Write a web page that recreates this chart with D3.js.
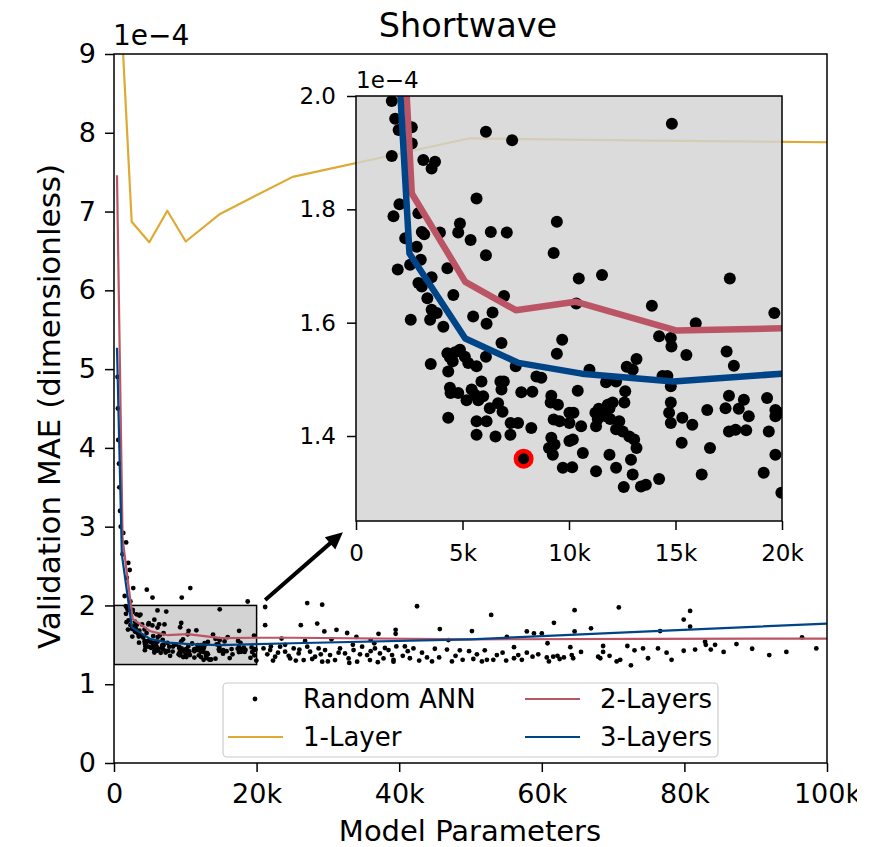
<!DOCTYPE html>
<html><head><meta charset="utf-8">
<script src="https://cdn.jsdelivr.net/npm/d3@7"></script>
<style>
body{margin:0;background:#fff}
svg{display:block}
text{font-family:"DejaVu Sans",sans-serif;fill:#000}
</style>
</head><body>
<svg id="c" width="892" height="847"></svg>
<script>
// ---------------- data (x in thousands of parameters, y in units of 1e-4) ----------------
const title = "Shortwave";
const xLabel = "Model Parameters";
const yLabel = "Validation MAE (dimensionless)";
const offsetLabel = "1e\u22124";

const xMainTicks = [0, 20, 40, 60, 80, 100];
const yMainTicks = [0, 1, 2, 3, 4, 5, 6, 7, 8, 9];
const xInsetTicks = [0, 5, 10, 15, 20];
const yInsetTicks = [1.4, 1.6, 1.8, 2.0];
const zoomX = [0, 20];
const zoomY = [1.25, 2.0];

const oneLayerX = [1.0, 2.48, 4.95, 7.48, 10.06, 14.87, 25.06, 49.9, 75, 100];
const oneLayerY = [9.5, 6.87, 6.61, 7.01, 6.62, 6.97, 7.44, 7.93, 7.90, 7.88];

const twoLayerX = [0.42, 1.2, 2.62, 5.13, 7.5, 10.3, 15.06, 20, 25, 50, 75, 100];
const twoLayerY = [7.46, 2.85, 1.828, 1.672, 1.622, 1.637, 1.586, 1.590, 1.59, 1.57, 1.575, 1.58];

const threeLayerX = [0.42, 1.1, 2.51, 5.13, 7.63, 10.6, 14.9, 20, 25, 50, 75, 100];
const threeLayerY = [5.27, 2.65, 1.722, 1.572, 1.529, 1.51, 1.496, 1.51, 1.52, 1.57, 1.67, 1.77];

const bestPoint = [7.87, 1.360];

// Random ANN results [params (k), MAE (1e-4)]
const annSmall = [
 [1.68,1.991],[1.84,1.960],[2.00,1.940],[2.62,1.945],[2.62,1.916],[1.68,1.894],[3.16,1.887],[3.71,1.884],[3.55,1.872],[6.10,1.937],[7.33,1.922],[14.83,1.951],
 [5.66,1.819],[2.04,1.809],[1.76,1.788],[2.93,1.793],[3.09,1.760],[3.20,1.756],[3.94,1.759],[4.88,1.775],[4.80,1.759],[5.38,1.746],[6.33,1.760],[7.08,1.759],[9.43,1.778],[9.28,1.723],[6.10,1.719],
 [2.31,1.749],[2.85,1.734],[3.04,1.711],[2.54,1.702],[1.96,1.694],[4.29,1.696],[3.55,1.680],[2.93,1.670],[3.09,1.664],[3.35,1.643],[4.57,1.649],[6.95,1.647],[3.55,1.623],[3.79,1.617],[3.48,1.605],[2.57,1.605],[4.10,1.593],[5.50,1.611],[6.41,1.618],[6.13,1.598],[10.46,1.678],[11.55,1.684],[10.34,1.634],[13.89,1.630],[17.55,1.678],[19.64,1.617],[15.95,1.599],
 [6.83,1.564],[9.68,1.570],[9.43,1.545],[14.23,1.576],[14.78,1.573],[14.81,1.558],[15.51,1.543],[17.40,1.549],[17.74,1.524],[13.17,1.536],[12.71,1.522],[12.99,1.517],
 [3.51,1.527],[4.29,1.546],[4.41,1.539],[4.65,1.548],[4.88,1.552],[5.11,1.540],[4.54,1.532],[5.27,1.529],[5.66,1.523],[4.33,1.514],[6.10,1.540],[7.50,1.523],[8.47,1.505],[8.70,1.503],[10.96,1.517],[11.74,1.495],[12.21,1.496],[14.39,1.506],[14.62,1.506],[14.78,1.488],
 [4.41,1.485],[4.44,1.476],[4.80,1.476],[5.43,1.482],[5.58,1.473],[5.89,1.496],[5.19,1.463],[5.74,1.463],[5.97,1.470],[6.78,1.496],[6.94,1.496],[6.83,1.482],[7.76,1.477],[8.28,1.478],[9.17,1.471],[9.14,1.459],[9.48,1.455],[10.41,1.480],[12.64,1.479],[12.60,1.459],[11.82,1.455],[11.90,1.449],[12.05,1.459],[11.40,1.448],[11.24,1.441],[11.35,1.430],[14.78,1.459],[16.49,1.446],[17.51,1.471],[18.21,1.464],[17.97,1.448],[17.35,1.449],[19.30,1.467],[19.69,1.446],[19.85,1.441],[19.69,1.435],
 [6.28,1.449],[6.67,1.458],[6.88,1.443],[4.33,1.432],[5.66,1.426],[6.13,1.426],[7.26,1.423],[7.61,1.423],[8.23,1.414],[7.25,1.402],[5.66,1.402],[6.55,1.399],[9.28,1.429],[9.56,1.426],[10.02,1.441],[10.21,1.441],[10.02,1.423],[10.57,1.417],[11.27,1.417],[11.74,1.435],[11.93,1.430],[12.36,1.426],[12.21,1.412],[12.52,1.408],[12.83,1.399],[13.06,1.394],[13.17,1.379],[14.70,1.441],[14.78,1.423],[15.32,1.432],[15.79,1.420],[17.51,1.408],[17.82,1.411],[18.32,1.410],[18.44,1.435],[19.38,1.408],
 [9.17,1.397],[9.32,1.385],[9.06,1.379],[9.24,1.367],[10.02,1.391],[10.18,1.394],[10.65,1.370],[11.90,1.367],[12.91,1.358],[12.21,1.344],[11.27,1.338],[9.71,1.344],[10.15,1.345],[12.99,1.332],[12.57,1.310],[13.38,1.311],[13.61,1.314],[14.23,1.324],[15.29,1.388],[16.62,1.379],[16.23,1.332],[19.14,1.335],[19.69,1.367],[19.97,1.300],
 [7.87,1.360]
];
const annTall = [
 [0.5,4.9],[0.55,4.5],[0.6,4.1],[0.7,3.8],[0.75,3.5],[0.85,3.2],[0.95,3.0],[1.3,2.92],[1.7,2.8],[1.2,2.65],[2.0,2.54],[2.2,2.45],[1.8,2.35],[2.7,2.22],[1.5,2.12],[2.3,2.05],
 [4.6,2.20],[5.4,2.10],[9.5,2.10],[10.7,2.22],[18.75,2.05]
];
const annWide = [
 [21.2,1.98],[27.1,2.03],[29.2,2.01],[42.5,1.99],[52.9,1.88],[61.7,1.78],
 [21.2,1.75],[26.2,1.75],[28.5,1.77],[29.5,1.67],[31.2,1.69],[32.7,1.65],[37.1,1.64],[39.5,1.69],[39.5,1.64],[45.7,1.70],[50.2,1.675],[55.1,1.60],[57.9,1.67],[58.9,1.645],[60.0,1.645],
 [20.97,1.455],[21.9,1.434],[22.6,1.349],[23.3,1.476],[24.0,1.413],[24.7,1.328],[25.2,1.455],[25.9,1.391],[26.6,1.307],[27.1,1.476],[27.5,1.413],[28.2,1.349],[28.7,1.455],[29.2,1.286],[29.6,1.434],[30.3,1.370],[31.0,1.307],[31.7,1.455],[32.4,1.391],[32.9,1.328],[33.6,1.434],[34.1,1.286],[34.8,1.476],[35.5,1.370],[35.9,1.307],[36.6,1.455],[37.3,1.391],[37.8,1.328],[38.5,1.434],[39.2,1.286],
 [21.5,1.38],[22.3,1.30],[23.0,1.40],[24.5,1.36],[25.5,1.30],[26.0,1.44],[27.8,1.32],[29.0,1.38],[30.0,1.29],[31.5,1.40],[33.0,1.27],[34.5,1.38],[36.0,1.42],[37.0,1.28],[38.0,1.46],[39.0,1.37],[22.0,1.48],[24.0,1.50],[33.5,1.50],[36.5,1.52],
 [23.5,1.58],[26.8,1.55],[30.5,1.57],[34.0,1.60],[36.0,1.56],
 [64.6,1.94],[70.8,1.975],[80.8,1.93],[79.9,1.82],[80.8,1.73],[66.9,1.71],[64.6,1.67],[76.6,1.675],[68.6,1.485],[72.0,1.485],[74.2,1.455],[76.3,1.455],[82.9,1.54],[83.0,1.50],[83.7,1.44],[84.3,1.50],[87.3,1.51],[96.5,1.595],[98.5,1.455],[94.3,1.41],[91.9,1.37],[79.9,1.425],[81.5,1.44],[78.2,1.31],[74.9,1.33],[72.5,1.24],[70.5,1.29],[71.0,1.31],[68.6,1.41],[67.9,1.35],[68.2,1.33],[64.2,1.37],[64.4,1.33],[61.6,1.35],[62.2,1.36],[62.5,1.32],[60.7,1.34],[58.7,1.35],[57.9,1.40],[56.7,1.37],[56.1,1.33],[55.0,1.30],[53.7,1.37],[52.3,1.31],[51.6,1.29],[50.4,1.32],[49.8,1.42],[48.5,1.43],[47.4,1.29],[46.7,1.44],[45.6,1.34],[43.9,1.34],[41.5,1.33],[42.0,1.455],[40.8,1.48],[39.6,1.48],[39.2,1.31],[60.8,1.52],[56.1,1.47],[64.0,1.47],[46.9,1.56],
 [40.5,1.36],[41.2,1.42],[42.8,1.30],[43.2,1.40],[44.6,1.29],[45.0,1.45],[47.9,1.36],[48.9,1.31],[50.9,1.38],[52.0,1.43],[53.2,1.31],[54.5,1.40],[57.2,1.31],[59.5,1.38],[61.0,1.29],[63.1,1.34],[65.5,1.41],[69.5,1.36],[73.0,1.43],[77.5,1.40],[85.5,1.41],[89.5,1.45]
];

const seriesNames = ["Random ANN", "1-Layer", "2-Layers", "3-Layers"];
const colors = {one: "#DDAA33", two: "#BB5566", three: "#004488"};

// ---------------- layout ----------------
const svg = d3.select("#c");
const M = {l: 114, r: 827, t: 54, b: 763};
const I = {l: 356, r: 782, t: 96, b: 521};
const x = d3.scaleLinear().domain([0, 100]).range([M.l, M.r]);
const y = d3.scaleLinear().domain([0, 9]).range([M.b, M.t]);
const xi = d3.scaleLinear().domain(zoomX).range([I.l, I.r]);
const yi = d3.scaleLinear().domain(zoomY).range([I.b, I.t]);
const kfmt = d => d === 0 ? "0" : d + "k";

const defs = svg.append("defs");
defs.append("clipPath").attr("id", "cm").append("rect")
  .attr("x", M.l).attr("y", M.t).attr("width", M.r - M.l).attr("height", M.b - M.t);
defs.append("clipPath").attr("id", "ci").append("rect")
  .attr("x", I.l).attr("y", I.t).attr("width", I.r - I.l).attr("height", I.b - I.t);

const allAnn = annSmall.concat(annTall, annWide);
const pairs = (xs, ys) => xs.map((v, i) => [v, ys[i]]);

// ---------- main axes ----------
const gm = svg.append("g").attr("clip-path", "url(#cm)");
gm.append("rect").attr("x", x(zoomX[0])).attr("y", y(zoomY[1]))
  .attr("width", x(zoomX[1]) - x(zoomX[0])).attr("height", y(zoomY[0]) - y(zoomY[1]))
  .attr("fill", "#d3d3d3").attr("stroke", "#000").attr("stroke-width", 1.5);
gm.selectAll("circle.ann").data(allAnn).join("circle").attr("class", "ann")
  .attr("cx", d => x(d[0])).attr("cy", d => y(d[1])).attr("r", 2.4).attr("fill", "#000");
const lineM = d3.line().x(d => x(d[0])).y(d => y(d[1]));
[[oneLayerX, oneLayerY, colors.one], [twoLayerX, twoLayerY, colors.two], [threeLayerX, threeLayerY, colors.three]]
  .forEach(([xs, ys, c]) => gm.append("path").attr("d", lineM(pairs(xs, ys)))
    .attr("fill", "none").attr("stroke", c).attr("stroke-width", 2.2).attr("stroke-linejoin", "round"));

const axB = svg.append("g").attr("transform", `translate(0,${M.b})`)
  .call(d3.axisBottom(x).tickValues(xMainTicks).tickFormat(kfmt).tickSize(9).tickSizeOuter(0));
const axL = svg.append("g").attr("transform", `translate(${M.l},0)`)
  .call(d3.axisLeft(y).tickValues(yMainTicks).tickFormat(d3.format("d")).tickSize(9).tickSizeOuter(0).tickPadding(9));
[axB, axL].forEach(g => {
  g.select(".domain").remove();
  g.selectAll(".tick line").attr("stroke", "#000").attr("stroke-width", 1.5);
  g.selectAll(".tick text").style("font-size", "27px").style("font-family", "DejaVu Sans");
});
axB.selectAll(".tick text").attr("y", 40).attr("dy", 0);
svg.append("rect").attr("x", M.l).attr("y", M.t).attr("width", M.r - M.l).attr("height", M.b - M.t)
  .attr("fill", "none").attr("stroke", "#000").attr("stroke-width", 1.5);

svg.append("text").attr("x", M.l - 1).attr("y", 45).style("font-size", "28px").text(offsetLabel);
svg.append("text").attr("x", 468).attr("y", 37).attr("text-anchor", "middle").style("font-size", "33.5px").text(title);
svg.append("text").attr("x", 470).attr("y", 841).attr("text-anchor", "middle").style("font-size", "29px").text(xLabel);
svg.append("text").attr("transform", `translate(60,${(M.t + M.b) / 2 - 2}) rotate(-90)`).attr("text-anchor", "middle").style("font-size", "31px").text(yLabel);

// ---------- arrow from zoom box to inset ----------
const s = [x(21.2), y(2.07)], e = [x(32.1), y(2.93)];
const dx = e[0] - s[0], dy = e[1] - s[1], L = Math.hypot(dx, dy), ux = dx / L, uy = dy / L;
const hl = 17, hw = 8;
svg.append("line").attr("x1", s[0]).attr("y1", s[1]).attr("x2", e[0] - ux * hl * 0.8).attr("y2", e[1] - uy * hl * 0.8)
  .attr("stroke", "#000").attr("stroke-width", 4);
svg.append("path").attr("d", `M${e[0]},${e[1]}L${e[0] - ux * hl - uy * hw},${e[1] - uy * hl + ux * hw}L${e[0] - ux * hl + uy * hw},${e[1] - uy * hl - ux * hw}Z`)
  .attr("fill", "#000");

// ---------- inset ----------
svg.append("rect").attr("x", I.l).attr("y", I.t).attr("width", I.r - I.l).attr("height", I.b - I.t)
  .attr("fill", "#d3d3d3").attr("fill-opacity", 0.82);
const gi = svg.append("g").attr("clip-path", "url(#ci)");
gi.selectAll("circle.ann").data(allAnn).join("circle").attr("class", "ann")
  .attr("cx", d => xi(d[0])).attr("cy", d => yi(d[1])).attr("r", 6).attr("fill", "#000");
gi.append("circle").attr("cx", xi(bestPoint[0])).attr("cy", yi(bestPoint[1])).attr("r", 10).attr("fill", "#ff0000");
gi.append("circle").attr("cx", xi(bestPoint[0])).attr("cy", yi(bestPoint[1])).attr("r", 5.5).attr("fill", "#000");
const lineI = d3.line().x(d => xi(d[0])).y(d => yi(d[1]));
[[twoLayerX, twoLayerY, colors.two], [threeLayerX, threeLayerY, colors.three]]
  .forEach(([xs, ys, c]) => gi.append("path").attr("d", lineI(pairs(xs, ys)))
    .attr("fill", "none").attr("stroke", c).attr("stroke-width", 6.5).attr("stroke-linejoin", "round"));
const iaB = svg.append("g").attr("transform", `translate(0,${I.b})`)
  .call(d3.axisBottom(xi).tickValues(xInsetTicks).tickFormat(kfmt).tickSize(9).tickSizeOuter(0));
const iaL = svg.append("g").attr("transform", `translate(${I.l},0)`)
  .call(d3.axisLeft(yi).tickValues(yInsetTicks).tickFormat(d3.format(".1f")).tickSize(9).tickSizeOuter(0).tickPadding(11));
[iaB, iaL].forEach(g => {
  g.select(".domain").remove();
  g.selectAll(".tick line").attr("stroke", "#000").attr("stroke-width", 1.5);
  g.selectAll(".tick text").style("font-size", "23px").style("font-family", "DejaVu Sans");
});
iaB.selectAll(".tick text").attr("y", 40).attr("dy", 0);
svg.append("rect").attr("x", I.l).attr("y", I.t).attr("width", I.r - I.l).attr("height", I.b - I.t)
  .attr("fill", "none").attr("stroke", "#000").attr("stroke-width", 1.5);
svg.append("text").attr("x", I.l).attr("y", 88).style("font-size", "23px").text(offsetLabel);

// ---------- legend ----------
const lg = svg.append("g");
lg.append("rect").attr("x", 223).attr("y", 683).attr("width", 495).attr("height", 74).attr("rx", 4)
  .attr("fill", "#fff").attr("fill-opacity", 0.8).attr("stroke", "#cccccc").attr("stroke-width", 1.2);
const items = [
  {name: seriesNames[0], type: "dot", c: "#000", cx: 228, cy: 699},
  {name: seriesNames[1], type: "line", c: colors.one, cx: 228, cy: 737},
  {name: seriesNames[2], type: "line", c: colors.two, cx: 525, cy: 699},
  {name: seriesNames[3], type: "line", c: colors.three, cx: 525, cy: 737}
];
items.forEach(it => {
  if (it.type === "dot") lg.append("circle").attr("cx", it.cx + 27).attr("cy", it.cy).attr("r", 2.4).attr("fill", it.c);
  else lg.append("line").attr("x1", it.cx).attr("x2", it.cx + 55).attr("y1", it.cy).attr("y2", it.cy).attr("stroke", it.c).attr("stroke-width", 2.2);
  lg.append("text").attr("x", it.cx + 75).attr("y", it.cy).attr("dy", "0.36em").style("font-size", "26px").text(it.name);
});

// right edge of the figure is cropped in the original
svg.append("rect").attr("x", 857).attr("y", 0).attr("width", 35).attr("height", 847).attr("fill", "#fff");
</script>
</body></html>
